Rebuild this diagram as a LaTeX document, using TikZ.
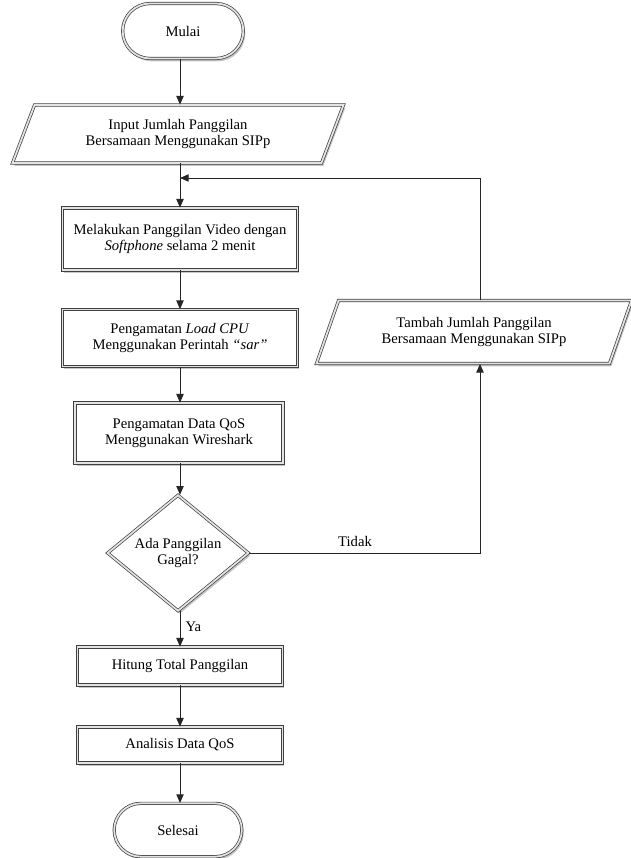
\documentclass[tikz,border=0pt]{standalone}
\usepackage{fontspec}
\setmainfont{Liberation Serif}
\usetikzlibrary{shapes.geometric,shapes.misc,arrows.meta,shadows}

\tikzset{
	base/.style={draw=black!75, line width=0.6pt, fill=white, align=center,
		drop shadow={opacity=0.45, shadow xshift=1.6pt, shadow yshift=-2.4pt},
		postaction={draw=black!75, double=gray!22, double distance=1.5pt, line width=0.6pt},
		font=\fontsize{12.5}{13.5}\selectfont, inner sep=1pt},
	terminal/.style={base, rounded rectangle, minimum width=36.9mm, minimum height=16.5mm},
	process/.style={base, rectangle, minimum height=11.4mm},
	inout/.style={base, trapezium, trapezium left angle=55, trapezium right angle=125,
		trapezium stretches body, minimum height=17.4mm},
	decision/.style={base, diamond, minimum width=42.3mm, minimum height=33.3mm, inner sep=0pt},
	arrow/.style={draw=black!85, line width=0.8pt, -{Triangle[length=2.6mm,width=2.2mm]}},
	label/.style={font=\fontsize{12.5}{13.5}\selectfont}
}

\begin{document}
\begin{tikzpicture}[x=0.3mm, y=-0.3mm]
	\useasboundingbox (0,0) rectangle (631,858);

	%main column
	\node[terminal] (mulai) at (183,31) {Mulai};
	\node[inout, minimum width=99.3mm] (input) at (178,134) {Input Jumlah Panggilan\\Bersamaan Menggunakan SIPp};
	\coordinate (join) at (180,178);
	\node[process, minimum width=70.5mm, minimum height=18.6mm] (video) at (180,239) {Melakukan Panggilan Video dengan\\\textit{Softphone} selama 2 menit};
	\node[process, minimum width=70.5mm, minimum height=17.1mm] (cpu) at (180,338) {Pengamatan \textit{Load CPU}\\Menggunakan Perintah \textit{``sar''}};
	\node[process, minimum width=62.4mm, minimum height=18mm] (qos) at (179,433) {Pengamatan Data QoS\\Menggunakan Wireshark};
	\node[decision] (gagal) at (178,553) {Ada Panggilan\\Gagal?};
	\node[process, minimum width=61.5mm] (hitung) at (180,666) {Hitung Total Panggilan};
	\node[process, minimum width=61.5mm, minimum height=10.8mm] (analisis) at (180,745) {Analisis Data QoS};
	\node[terminal, minimum width=39mm, minimum height=16mm] (selesai) at (178,830) {Selesai};

	%loop back (Tidak)
	\node[inout, minimum width=94.5mm, minimum height=18.9mm] (tambah) at (474,332) {Tambah Jumlah Panggilan\\Bersamaan Menggunakan SIPp};
	\coordinate (loopx) at (480,0);

	%connectors
	\draw[arrow] (mulai.south -| join) -- (input.north -| join);
	\draw[line width=0.8pt, draw=black!85] (input.south -| join) -- (join);
	\draw[arrow] (join) -- (video.north -| join);
	\draw[arrow] (video.south -| join) -- (cpu.north -| join);
	\draw[arrow] (cpu.south -| join) -- (qos.north -| join);
	\draw[arrow] (qos.south -| join) -- (gagal.north -| join);
	\draw[arrow] (gagal.south -| join) -- (hitung.north -| join) node[label, pos=0.45, right=1pt] {Ya};
	\draw[arrow] (hitung.south -| join) -- (analisis.north -| join);
	\draw[arrow] (analisis.south -| join) -- (selesai.north -| join);

	\draw[arrow] (gagal.east) -- (gagal.east -| loopx) -- (tambah.south -| loopx);
	\node[label] (tidak) at (355,541) {Tidak};
	\draw[arrow] (tambah.north -| loopx) |- (join);
\end{tikzpicture}
\end{document}
